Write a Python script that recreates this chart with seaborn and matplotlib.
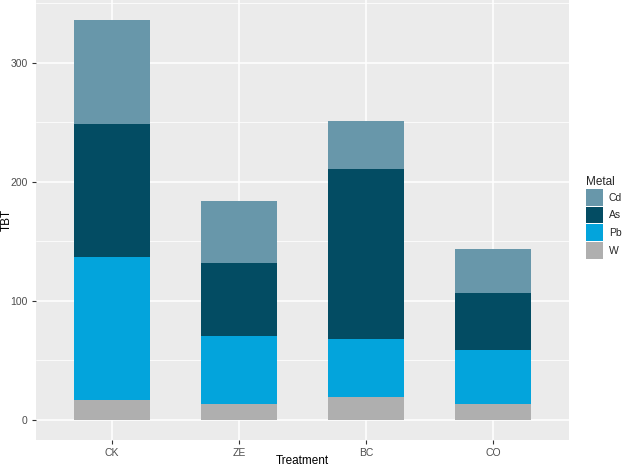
import matplotlib
matplotlib.use("Agg")
import matplotlib.pyplot as plt
import numpy as np
import pandas as pd
import seaborn as sns
from matplotlib.patches import Patch

treatments = ["CK", "ZE", "BC", "CO"]
metals = ["Cd", "As", "Pb", "W"]  # legend order, top of stack first
w_vals = [16.5, 13.7, 19.3, 13.2]
pb_vals = [120.7, 56.4, 48.3, 45.2]
as_vals = [111.7, 61.8, 143.3, 48.4]
cd_vals = [86.9, 51.6, 40.0, 37.1]

colors = {"Cd": "#6897aa", "As": "#034c63", "Pb": "#03a4dc", "W": "#afafaf"}

sns.set_theme(style="darkgrid", rc={
    "axes.facecolor": "#ebebeb",
    "grid.color": "white",
    "axes.edgecolor": "none",
})
plt.rcParams["font.family"] = ["Liberation Sans", "DejaVu Sans"]

df = pd.DataFrame({"Treatment": treatments, "W": w_vals, "Pb": pb_vals,
                   "As": as_vals, "Cd": cd_vals})
# cumulative heights, bottom to top
stack_order = ["W", "Pb", "As", "Cd"]
cum = df[stack_order].cumsum(axis=1)
cum["Treatment"] = df["Treatment"]

fig = plt.figure(figsize=(6.25, 4.69), dpi=100)
ax = fig.add_axes([36 / 625, 29 / 469, 533 / 625, 440 / 469])

# draw tallest cumulative layer first so lower layers sit on top
for metal in reversed(stack_order):
    sns.barplot(data=cum, x="Treatment", y=metal, order=treatments,
                color=colors[metal], width=0.6, saturation=1, ax=ax,
                errorbar=None, linewidth=0)

ymax = cum["Cd"].max()
pad = ymax * 0.05
ax.set_ylim(-pad, ymax + pad)
ax.set_xlim(-0.6, len(treatments) - 0.4)

ax.set_yticks([0, 100, 200, 300])
ax.set_yticks([50, 150, 250, 350], minor=True)
ax.grid(True, which="major", color="white", linewidth=1.1)
ax.grid(True, which="minor", axis="y", color="white", linewidth=0.55)
ax.grid(False, which="minor", axis="x")
ax.set_axisbelow(True)

ax.tick_params(axis="both", which="major", length=3, width=0.8, color="#333333",
               labelsize=7.5, labelcolor="#4d4d4d", pad=3, direction="out",
               bottom=True, left=True)
ax.tick_params(axis="both", which="minor", length=0)

ax.set_xlabel("Treatment", fontsize=8.5, color="black")
ax.set_ylabel("TBT", fontsize=8.5, color="black")
ax.xaxis.set_label_coords(0.5, -0.034)
ax.yaxis.set_label_coords(-0.044, 0.5)
for s in ax.spines.values():
    s.set_visible(False)

handles = [Patch(facecolor=colors[m], edgecolor="none", label=m) for m in metals]
leg = fig.legend(handles=handles, title="Metal", loc="upper left",
                 bbox_to_anchor=(584 / 625, 1 - 174 / 469), frameon=False,
                 fontsize=7.5, title_fontsize=8.5, handlelength=1.63,
                 handleheight=2.13, labelspacing=0.07, handletextpad=0.55,
                 borderaxespad=0, borderpad=0.2)
leg._legend_box.align = "left"

fig.savefig("out.png", dpi=100)
